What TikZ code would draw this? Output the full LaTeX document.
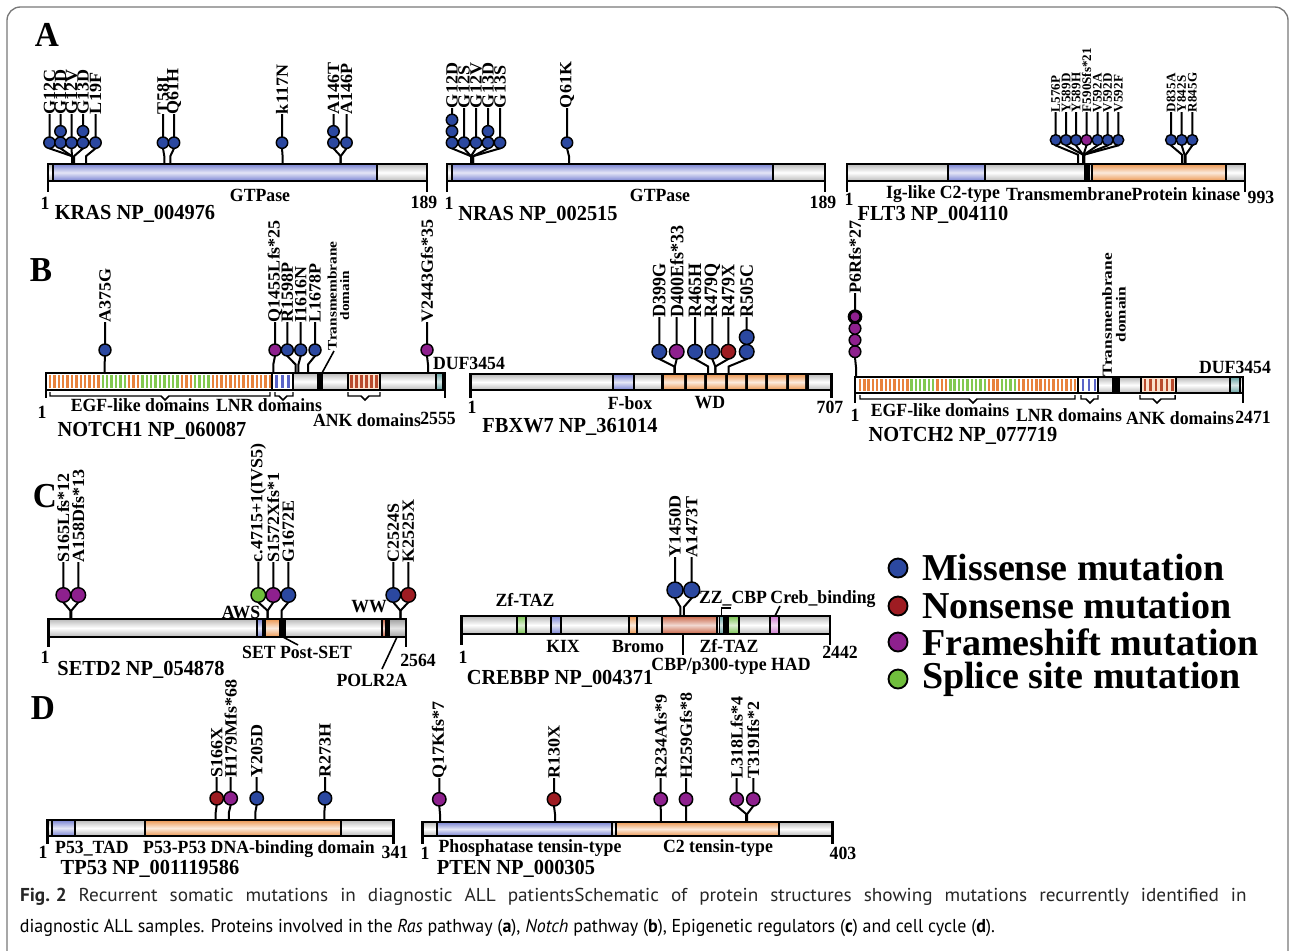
\documentclass[tikz,border=0pt]{standalone}
\usepackage{fontspec}
\usepackage{graphicx}
\setmainfont{Liberation Serif}
\newfontfamily\capfont{PT Sans}
\definecolor{mis}{RGB}{43,72,160}
\definecolor{non}{RGB}{158,28,34}
\definecolor{fs}{RGB}{142,32,142}
\definecolor{spl}{RGB}{112,190,60}
\definecolor{gdom}{RGB}{185,185,185}
\definecolor{bdom}{RGB}{120,130,210}
\definecolor{odom}{RGB}{235,150,80}
\definecolor{hdom}{RGB}{200,100,70}
\definecolor{tdom}{RGB}{100,160,160}
\definecolor{zdom}{RGB}{120,195,80}
\definecolor{pdom}{RGB}{205,120,205}
\definecolor{egfo}{RGB}{232,130,60}
\definecolor{egfg}{RGB}{130,200,80}
\definecolor{lnrb}{RGB}{90,100,200}
\definecolor{ankr}{RGB}{185,75,45}
\definecolor{framec}{RGB}{120,120,120}
\newcommand\fD{\bfseries\fontsize{13.3}{14}\selectfont}
\newcommand\fN{\bfseries\fontsize{15.3}{16}\selectfont}
\newcommand\fL{\bfseries\fontsize{13.5}{13.5}\selectfont}
\newcommand\fS{\bfseries\fontsize{9.8}{10}\selectfont}
\newcommand\vs[1]{\scalebox{1}[1.05]{#1}}
\newcounter{mc}
\newcommand\mut[5]{%
 \pgfmathsetmacro\kk{\Bt-(\Bt-\Cy-\R)/2}%
 \pgfmathsetmacro\cb{\Cy+\R}%
 \draw[stem] (#1,\Bt) -- (#1,\kk) -- (#2,\cb) -- (#2,\Ly);
 \foreach \i in {1,...,#3}{\pgfmathsetmacro\cyy{\Cy-(\i-1)*2*\R}\draw[pop,fill=#4] (#2,\cyy) circle[radius=\R];}
 \stepcounter{mc}\node[lab,rotate=90,anchor=west] (m\arabic{mc}) at (#2,\Ly) {\scalebox{1}[\Lx]{\Lfont #5}};
}
\newcommand\dom[3]{\path[#3,draw=black,line width=0.9pt] (#1,\Bt) rectangle (#2,\Bb);}
\newcommand\frameit[2]{\draw[barline] (#1,\Bt) rectangle (#2,\Bb); \draw[barline] (#1,\Bb) -- (#1,\Tk) (#2,\Bb) -- (#2,\Tk);}
\newcommand\brc[4]{\draw[line width=1.1pt] (#1,#4) -- (#1,#4+4) -- (#3-4,#4+4) -- (#3,#4+8) -- (#3+4,#4+4) -- (#2,#4+4) -- (#2,#4);}
\newsavebox\capB \newlength\capw
\newcommand\capsize{\capfont\fontsize{14}{16}\selectfont}
\begin{document}
\sbox\capB{\capsize diagnostic ALL samples. Proteins involved in the \textit{Ras} pathway (\textbf{a}), \textit{Notch} pathway (\textbf{b}), Epigenetic regulators (\textbf{c}) and cell cycle (\textbf{d}).}%
\setlength\capw{\wd\capB}%
\pgfmathsetmacro\capf{731.25/\capw}%
\pgfmathsetmacro\capfA{\capf*1.07}%
\pgfmathsetlengthmacro\capwA{920/\capfA}%
\begin{tikzpicture}[x=0.75pt,y=-0.75pt,
 barline/.style={line width=2pt},
 stem/.style={line width=1.5pt},
 pop/.style={draw=black,line width=1.1pt},
 lab/.style={inner sep=0pt,outer sep=0pt},
 txt/.style={inner sep=0pt,outer sep=0pt},
 dgray/.style={top color=gdom,bottom color=gdom,middle color=white},
 dblue/.style={top color=bdom,bottom color=bdom,middle color=white!80!bdom},
 dorange/.style={top color=odom,bottom color=odom,middle color=white!80!odom},
 dhat/.style={top color=hdom,bottom color=hdom,middle color=white!75!hdom},
 dteal/.style={top color=tdom,bottom color=tdom,middle color=white!75!tdom},
 dgreen/.style={top color=zdom,bottom color=zdom,middle color=white!75!zdom},
 dpink/.style={top color=pdom,bottom color=pdom,middle color=white!75!pdom},
 ddark/.style={top color=gray!75,bottom color=gray!75,middle color=white!80!gray},
 dwhite/.style={fill=white},
 dank/.style={fill={rgb,255:red,250;green,225;blue,205}}]
\useasboundingbox (0,0) rectangle (1295,950);
\clip (0,0) rectangle (1295,950);
\fill[white] (0,0) rectangle (1295,950);
\draw[framec,line width=1pt,rounded corners=10pt] (7,7) rectangle (1288,1000);

% panel letters
\node[txt] (pA) at (47,35) {\vs{\bfseries\fontsize{25}{25}\selectfont A}};
\node[txt] (pB) at (41,270) {\vs{\bfseries\fontsize{25}{25}\selectfont B}};
\node[txt] (pC) at (45,496) {\vs{\bfseries\fontsize{25}{25}\selectfont C}};
\node[txt] (pD) at (43,708) {\vs{\bfseries\fontsize{25}{25}\selectfont D}};

% ================= KRAS
\def\Bt{164}\def\Bb{181}\def\Tk{192}\def\Cy{142.7}\def\R{5.7}\def\Ly{114}\def\Lfont{\fL}\def\Lx{0.95}
\dom{48}{53}{dgray}\dom{53}{377}{dblue}\dom{377}{427}{dgray}
\frameit{48}{427}
\mut{72}{49.5}{1}{mis}{G12C}
\mut{72}{60.5}{2}{mis}{G12D}
\mut{72}{71.5}{1}{mis}{G12V}
\mut{74}{83}{2}{mis}{G13D}
\mut{86}{95.5}{1}{mis}{L19F}
\mut{164.3}{163}{1}{mis}{T58I}
\mut{170.3}{174}{1}{mis}{Q61H}
\mut{282.6}{282}{1}{mis}{k117N}
\mut{340.7}{333.5}{2}{mis}{A146T}
\mut{340.7}{346.5}{1}{mis}{A146P}
\node[txt] (k1) at (45,203) {\vs{\fD 1}};
\node[txt] (k2) at (424,202) {\vs{\fD 189}};
\node[txt] (k3) at (260,195) {\vs{\fD GTPase}};
\node[txt] (k4) at (135,214) {\vs{\fN KRAS NP\_004976}};

% ================= NRAS
\def\Ly{108}
\dom{447}{452}{dgray}\dom{452}{773}{dblue}\dom{773}{825}{dgray}
\frameit{447}{825}
\mut{471}{452}{3}{mis}{G12D}
\mut{471}{464}{1}{mis}{G12S}
\mut{471}{476}{1}{mis}{G12V}
\mut{473}{488}{2}{mis}{G13D}
\mut{473}{500}{1}{mis}{G13S}
\mut{569}{567}{1}{mis}{Q61K}
\node[txt] (n1) at (449,203) {\vs{\fD 1}};
\node[txt] (n2) at (823,202) {\vs{\fD 189}};
\node[txt] (n3) at (660,195) {\vs{\fD GTPase}};
\node[txt] (n4) at (538,215) {\vs{\fN NRAS NP\_002515}};

% ================= FLT3
\def\Cy{140}\def\R{5.4}\def\Ly{112}\def\Lfont{\fS}\def\Lx{1}
\dom{847}{948}{dgray}\dom{948}{985}{dblue}\dom{985}{1085}{dgray}
\fill (1085,\Bt) rectangle (1089,\Bb);
\dom{1089}{1092}{dgray}\dom{1092}{1226}{dorange}\dom{1226}{1245}{dgray}
\frameit{847}{1245}
\mut{1078}{1055.7}{1}{mis}{L576P}
\mut{1083}{1066}{1}{mis}{Y589D}
\mut{1083}{1076}{1}{mis}{Y589H}
\mut{1083.5}{1086.5}{1}{fs}{F590Sfs*21}
\mut{1084}{1097.5}{1}{mis}{V592A}
\mut{1084}{1107.7}{1}{mis}{V592D}
\mut{1084}{1118.3}{1}{mis}{V592F}
\mut{1182}{1171}{1}{mis}{D835A}
\mut{1184.5}{1181.7}{1}{mis}{Y842S}
\mut{1185.7}{1192.3}{1}{mis}{R845G}
\node[txt] (f1) at (849,199) {\vs{\fD 1}};
\node[txt] (f2) at (1261,197) {\vs{\fD 993}};
\node[txt] (f3) at (943,194) {\vs{\fD Ig-like C2-type}};
\node[txt] (f4) at (1069,194) {\vs{\fD Transmembrane}};
\node[txt] (f5) at (1186,194) {\vs{\fD Protein kinase}};
\node[txt] (f6) at (933,215) {\vs{\fN FLT3 NP\_004110}};

% ================= NOTCH1
\def\Bt{373}\def\Bb{390}\def\Tk{398}\def\Cy{350}\def\R{6}\def\Ly{322}\def\Lfont{\fL}\def\Lx{0.95}
\dom{46}{272}{dwhite}
\foreach \i in {0,...,50}{
 \pgfmathsetmacro\xx{50+4.4*\i}
 \ifnum\i<12 \def\cc{egfo}\else\ifnum\i<18 \def\cc{egfg}\else\ifnum\i<21 \def\cc{egfo}\else\ifnum\i<30 \def\cc{egfg}\else\ifnum\i<33 \def\cc{egfo}\else\ifnum\i<37 \def\cc{egfg}\else\def\cc{egfo}\fi\fi\fi\fi\fi\fi
 \draw[color=\cc,line width=1.8pt] (\xx,\Bt+2) -- (\xx,\Bb-2);
}
\dom{272}{293}{dwhite}
\foreach \xx in {276.5,282.5,288.5}{\draw[lnrb,line width=2.2pt] (\xx,\Bt+2) -- (\xx,\Bb-2);}
\dom{293}{318}{dgray}
\fill (318,\Bt) rectangle (322,\Bb);
\dom{322}{348}{dgray}\dom{348}{380}{dank}
\foreach \xx in {351.5,356.5,361.5,366.5,371.5,376.5}{\draw[ankr,line width=1.9pt] (\xx,\Bt+2) -- (\xx,\Bb-2);}
\dom{380}{436}{dgray}\dom{436}{443}{dteal}\dom{443}{445}{dgray}
\frameit{46}{445}
\brc{50}{270}{165}{392}
\brc{275}{293}{283}{392}
\brc{348}{380}{365}{392}
\draw[line width=1.2pt] (322,373) -- (334,351);
\node[lab,rotate=90,anchor=west] (tm1) at (340,350) {\scalebox{1}[0.85]{\bfseries\fontsize{11.5}{10}\selectfont\begin{tabular}{@{}c@{}}Transmembrane\\domain\end{tabular}}};
\mut{104.6}{105}{1}{mis}{A375G}
\mut{273.3}{275}{1}{fs}{Q1455Lfs*25}
\mut{295.6}{287.3}{1}{mis}{R1598P}
\mut{298.4}{300.7}{1}{mis}{I1616N}
\mut{308}{315}{1}{mis}{L1678P}
\mut{428}{427}{1}{fs}{V2443Gfs*35}
\node[txt] (a1) at (42,412) {\vs{\fD 1}};
\node[txt] (a2) at (438,418) {\vs{\fD 2555}};
\node[txt] (a3) at (140,405) {\vs{\fD EGF-like domains}};
\node[txt] (a4) at (269,405) {\vs{\fD LNR domains}};
\node[txt] (a5) at (367,420) {\vs{\fD ANK domains}};
\node[txt] (a6) at (469,363) {\vs{\fD DUF3454}};
\node[txt] (a7) at (152,431) {\vs{\fN NOTCH1 NP\_060087}};

% ================= FBXW7
\def\Bt{374}\def\Bb{390}\def\Tk{398}\def\Cy{351.7}\def\R{7.3}\def\Ly{317}\def\Lx{1.05}
\dom{470.7}{613}{dgray}\dom{613}{634}{dblue}\dom{634}{662}{dgray}
\fill (662,\Bt) rectangle (808,\Bb);
\foreach \a/\b in {664/684,687/704,707/725,728/745,748/765,768/786,789/805}{\path[dorange] (\a,\Bt) rectangle (\b,\Bb);}
\dom{808}{831.7}{dgray}
\frameit{470.7}{831.7}
\mut{674.4}{659.3}{1}{mis}{D399G}
\mut{674.9}{676.7}{1}{fs}{D400Efs*33}
\mut{708.2}{695}{1}{mis}{R465H}
\mut{715.3}{712.3}{1}{mis}{R479Q}
\mut{715.3}{728.3}{1}{non}{R479X}
\mut{728.6}{746.7}{2}{mis}{R505C}
\node[txt] (b1) at (472,407) {\vs{\fD 1}};
\node[txt] (b2) at (830,407) {\vs{\fD 707}};
\node[txt] (b3) at (630,403) {\vs{\fD F-box}};
\node[txt] (b4) at (710,403) {\vs{\fD WD}};
\node[txt] (b5) at (570,427) {\vs{\fN FBXW7 NP\_361014}};

% ================= NOTCH2
\def\Bt{377}\def\Bb{393}\def\Tk{403}\def\Cy{351.7}\def\R{5.83}\def\Ly{293}\def\Lx{0.95}
\dom{855}{1078}{dwhite}
\foreach \i in {0,...,50}{
 \pgfmathsetmacro\xx{860+4.3*\i}
 \ifnum\i<12 \def\cc{egfo}\else\ifnum\i<18 \def\cc{egfg}\else\ifnum\i<21 \def\cc{egfo}\else\ifnum\i<30 \def\cc{egfg}\else\ifnum\i<33 \def\cc{egfo}\else\ifnum\i<37 \def\cc{egfg}\else\def\cc{egfo}\fi\fi\fi\fi\fi\fi
 \draw[color=\cc,line width=1.8pt] (\xx,\Bt+2) -- (\xx,\Bb-2);
}
\dom{1078}{1098}{dwhite}
\foreach \xx in {1083,1089,1095}{\draw[lnrb,line width=2.2pt] (\xx,\Bt+2) -- (\xx,\Bb-2);}
\dom{1098}{1113}{dgray}
\fill (1113,\Bt) rectangle (1119,\Bb);
\dom{1119}{1141}{dgray}\dom{1141}{1176}{dank}
\foreach \xx in {1145,1150.5,1156,1161.5,1167,1172.5}{\draw[ankr,line width=1.9pt] (\xx,\Bt+2) -- (\xx,\Bb-2);}
\dom{1176}{1230}{dgray}\dom{1230}{1240}{dteal}\dom{1240}{1243}{dgray}
\frameit{855}{1243}
\brc{860}{1075}{973}{395}
\brc{1081}{1098}{1090}{395}
\brc{1140}{1175}{1157}{395}
\node[lab,rotate=90,anchor=west] (tm2) at (1116,376) {\scalebox{1}[0.8]{\bfseries\fontsize{13}{13}\selectfont\begin{tabular}{@{}c@{}}Transmembrane\\domain\end{tabular}}};
\mut{856}{855}{4}{fs}{P6Rfs*27}
\draw[line width=2.2pt] (855,316.7) circle[radius=5.83];
\node[txt] (c1) at (855,415) {\vs{\fD 1}};
\node[txt] (c2) at (1253,417) {\vs{\fD 2471}};
\node[txt] (c3) at (940,410) {\vs{\fD EGF-like domains}};
\node[txt] (c4) at (1069,415) {\vs{\fD LNR domains}};
\node[txt] (c5) at (1180,418) {\vs{\fD ANK domains}};
\node[txt] (c6) at (1235,367) {\vs{\fD DUF3454}};
\node[txt] (c7) at (963,436) {\vs{\fN NOTCH2 NP\_077719}};

% ================= SETD2
\def\Bt{619}\def\Bb{637}\def\Tk{647}\def\Cy{595}\def\R{7.3}\def\Ly{562}
\dom{48.3}{257}{dgray}\dom{257}{263}{dblue}\dom{263}{265}{dgray}\dom{265}{280}{dorange}
\fill (280,\Bt) rectangle (285,\Bb);
\dom{285}{382}{dgray}\dom{382}{385.5}{dhat}\dom{385.5}{387}{dgray}
\fill (387,\Bt) rectangle (389.5,\Bb);
\dom{389.5}{406}{ddark}
\frameit{48.3}{406}
\draw[line width=1.2pt] (283,637) -- (298,645);
\draw[line width=1.2pt] (397,637) -- (382,669);
\mut{70.4}{63.3}{1}{fs}{S165Lfs*12}
\mut{71.3}{78.3}{1}{fs}{A158Dfs*13}
\mut{267.6}{258.3}{1}{spl}{c.4715+1(IVS5)}
\mut{267.6}{273.3}{1}{fs}{S1572Xfs*1}
\mut{281.5}{288.3}{1}{mis}{G1672E}
\mut{400.4}{393.3}{1}{mis}{C2524S}
\mut{400.5}{408.3}{1}{non}{K2525X}
\node[txt] (s1) at (45,657) {\vs{\fD 1}};
\node[txt] (s2) at (418,660) {\vs{\fD 2564}};
\node[txt] (s3) at (241,612) {\vs{\fD AWS}};
\node[txt] (s4) at (369,607) {\vs{\fD WW}};
\node[txt] (s5) at (259,652) {\vs{\fD SET}};
\node[txt] (s6) at (316,652) {\vs{\fD Post-SET}};
\node[txt] (s7) at (372,680) {\vs{\fD POLR2A}};
\node[txt] (s8) at (141,670) {\vs{\fN SETD2 NP\_054878}};

% ================= CREBBP
\def\Bt{616}\def\Bb{634}\def\Tk{645}\def\Cy{590}\def\R{8}\def\Ly{557}
\dom{461.7}{517}{dgray}\dom{517}{526}{dgreen}\dom{526}{551}{dgray}\dom{551}{561}{dblue}
\dom{561}{629}{dgray}\dom{629}{637}{dorange}\dom{637}{662}{dgray}\dom{662}{717}{dhat}
\dom{717}{719.5}{dgray}\dom{719.5}{724}{dteal}
\fill (725,\Bt) rectangle (728.5,\Bb);
\dom{728.5}{739}{dgreen}\dom{739}{770}{dgray}\dom{770}{779}{dpink}\dom{779}{830}{dgray}
\frameit{461.7}{830}
\draw[line width=1.5pt] (683,634) -- (683,655);
\draw[line width=1.2pt] (721.5,616) -- (721.5,608) -- (731,608);
\draw[line width=1.2pt] (775,616) -- (780,606);
\mut{680.4}{675}{1}{mis}{Y1450D}
\mut{683.9}{691.7}{1}{mis}{A1473T}
\node[txt] (r1) at (463,657) {\vs{\fD 1}};
\node[txt] (r2) at (840,652) {\vs{\fD 2442}};
\node[txt] (r3) at (525,600) {\vs{\fD Zf-TAZ}};
\node[txt] (r4) at (563,646) {\vs{\fD KIX}};
\node[txt] (r5) at (638,646) {\vs{\fD Bromo}};
\node[txt] (r6) at (729,646) {\vs{\fD Zf-TAZ}};
\node[txt] (r7) at (731,666) {\vs{\fD CBP/p300-type HAD}};
\node[txt] (r8) at (733,599) {\vs{\fD ZZ\_CBP}};
\node[txt] (r9) at (823,599) {\vs{\fD Creb\_binding}};
\node[txt] (r10) at (560,679) {\vs{\fN CREBBP NP\_004371}};

% ================= legend
\foreach \yy/\cc/\tt [count=\k] in {568/mis/Missense mutation,606/non/Nonsense mutation,642/fs/Frameshift mutation,679/spl/Splice site mutation}{
 \draw[pop,line width=1.4pt,fill=\cc] (898,\yy) circle[radius=9.5];
 \node[txt,anchor=west] (leg\k) at (922,\yy) {\bfseries\fontsize{28.5}{28.5}\selectfont \tt};
}

% ================= TP53
\def\Bt{820}\def\Bb{836}\def\Tk{844}\def\Cy{798.3}\def\R{6.7}\def\Ly{777}
\dom{47.3}{52}{dgray}\dom{52}{75}{dblue}\dom{75}{145}{dgray}\dom{145}{341}{dorange}\dom{341}{393.3}{dgray}
\frameit{47.3}{393.3}
\mut{215.7}{216.7}{1}{non}{S166X}
\mut{228.9}{230.7}{1}{fs}{H179Mfs*68}
\mut{255.3}{256.7}{1}{mis}{Y205D}
\mut{324.3}{325}{1}{mis}{R273H}
\node[txt] (t1) at (43,852) {\vs{\fD 1}};
\node[txt] (t2) at (395,852) {\vs{\fD 341}};
\node[txt] (t3) at (92,849) {\vs{\fD P53\_TAD}};
\node[txt] (t4) at (259,849) {\vs{\fD P53-P53 DNA-binding domain}};
\node[txt] (t5) at (150,869) {\vs{\fN TP53 NP\_001119586}};

% ================= PTEN
\def\Bt{822}\def\Bb{836}\def\Tk{844}\def\Cy{799.3}\def\R{6.7}\def\Ly{778}
\dom{422.7}{437}{dgray}\dom{437}{612}{dblue}\dom{612}{616}{dgray}\dom{616}{779}{dorange}\dom{779}{832.7}{dgray}
\frameit{422.7}{832.7}
\mut{440}{439.3}{1}{fs}{Q17Kfs*7}
\mut{555}{554}{1}{non}{R130X}
\mut{660.8}{660.7}{1}{fs}{R234Afs*9}
\mut{686.2}{686}{1}{fs}{H259Gfs*8}
\mut{746.2}{736.7}{1}{fs}{L318Lfs*4}
\mut{747.2}{753.3}{1}{fs}{T319Ifs*2}
\node[txt] (u1) at (425,853) {\vs{\fD 1}};
\node[txt] (u2) at (843,853) {\vs{\fD 403}};
\node[txt] (u3) at (530,848) {\vs{\fD Phosphatase tensin-type}};
\node[txt] (u4) at (718,848) {\vs{\fD C2 tensin-type}};
\node[txt] (u5) at (516,869) {\vs{\fN PTEN NP\_000305}};

% ================= caption
\node[txt,anchor=west,text=black!85] (cap1) at (20,897) {\scalebox{\capfA}[1]{\makebox[\capwA][s]{\capsize\textbf{Fig.\kern.3em2} Recurrent somatic mutations in diagnostic ALL patientsSchematic of protein structures showing mutations recurrently identified in}}};
\node[txt,anchor=west,text=black!85] (cap2) at (20,928) {\scalebox{\capf}[1]{\usebox\capB}};
\end{tikzpicture}
\end{document}
